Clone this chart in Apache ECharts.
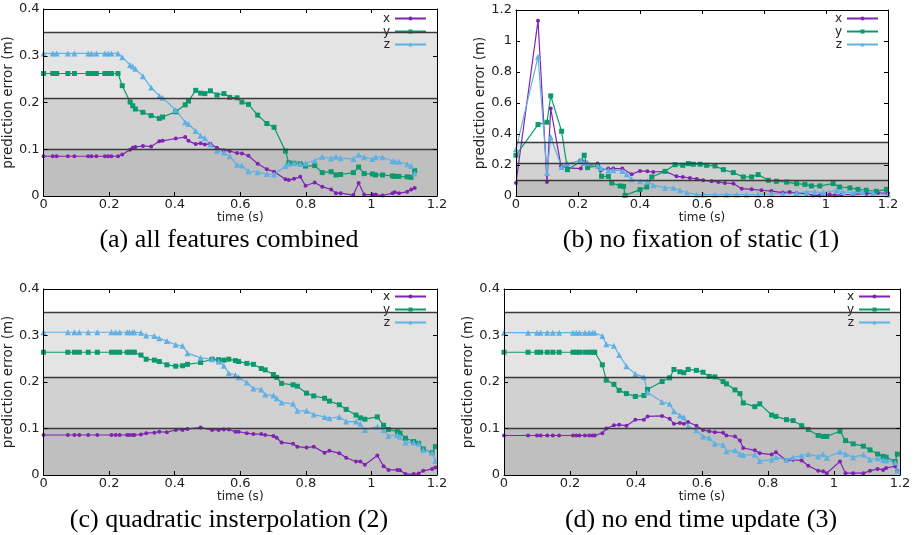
<!DOCTYPE html>
<html>
<head>
<meta charset="utf-8">
<script src="https://cdn.jsdelivr.net/npm/echarts@6/dist/echarts.min.js"></script>
<style>html,body{margin:0;padding:0;background:#fff;}#c{width:915px;height:535px;}</style>
</head>
<body>
<div id="c"></div>
<script>
// ---------- data ----------
const CAPTIONS = ['(a) all features combined', '(b) no fixation of static (1)',
                  '(c) quadratic insterpolation (2)', '(d) no end time update (3)'];
const X_TICKS = [0, 1.2, 0.2];
const BAND_EDGES = [0.1, 0.21, 0.35];

// (a) all features combined
const T_A = [0,0.028,0.040,0.074,0.094,0.136,0.146,0.161,0.187,0.197,0.207,0.227,
  0.240,0.264,0.272,0.280,0.303,0.328,0.353,0.363,0.403,0.432,
  0.442,0.464,0.479,0.492,0.509,0.529,0.550,0.568,0.590,0.605,
  0.625,0.653,0.681,0.703,0.738,0.748,0.764,0.783,0.799,0.827,
  0.850,0.877,0.892,0.906,0.945,0.961,0.978,1.003,1.013,1.034,
  1.064,1.071,1.084,1.109,1.121,1.132];
const A_X = [0.085,0.085,0.085,0.085,0.085,0.085,0.085,0.085,0.085,0.085,0.085,0.085,
  0.089,0.099,0.103,0.105,0.107,0.106,0.117,0.118,0.123,0.126,
  0.118,0.111,0.113,0.110,0.112,0.103,0.098,0.096,0.092,0.091,
  0.086,0.069,0.057,0.052,0.036,0.034,0.037,0.041,0.022,0.029,
  0.020,0.014,0.006,0.006,0.002,0.028,0.003,0.003,0.003,0.001,
  0.006,0.008,0.006,0.009,0.014,0.017];
const A_Y = [0.262,0.262,0.262,0.262,0.262,0.262,0.262,0.262,0.262,0.262,0.262,0.262,
  0.236,0.201,0.193,0.186,0.179,0.172,0.166,0.169,0.180,0.195,
  0.203,0.226,0.220,0.219,0.225,0.216,0.219,0.211,0.210,0.201,
  0.196,0.173,0.155,0.147,0.096,0.071,0.070,0.069,0.064,0.065,
  0.050,0.052,0.045,0.046,0.050,0.062,0.048,0.047,0.045,0.045,
  0.043,0.042,0.042,0.041,0.040,0.054];
const A_Z = [0.305,0.305,0.305,0.305,0.305,0.305,0.305,0.305,0.305,0.305,0.305,0.305,
  0.297,0.280,0.277,0.272,0.256,0.232,0.214,0.210,0.184,0.158,
  0.154,0.139,0.129,0.124,0.110,0.097,0.093,0.085,0.067,0.065,
  0.053,0.051,0.047,0.046,0.064,0.069,0.071,0.069,0.070,0.076,
  0.084,0.080,0.084,0.081,0.079,0.088,0.083,0.079,0.083,0.083,
  0.075,0.074,0.073,0.068,0.064,0.048];

// (b) no fixation of static  ([time, error] pairs)
const B_X = [[0,0.084],[0.071,1.131],[0.100,0.090],[0.112,0.564],[0.145,0.194],[0.166,0.181],
  [0.209,0.177],[0.220,0.220],[0.231,0.194],[0.263,0.209],[0.274,0.166],[0.298,0.177],
  [0.314,0.177],[0.343,0.177],[0.373,0.140],[0.400,0.162],[0.424,0.159],[0.443,0.155],
  [0.481,0.159],[0.518,0.127],[0.538,0.123],[0.561,0.116],[0.583,0.110],[0.604,0.101],
  [0.631,0.095],[0.653,0.090],[0.674,0.084],[0.701,0.080],[0.728,0.047],[0.760,0.043],
  [0.792,0.037],[0.824,0.032],[0.860,0.022],[0.883,0.026],[0.905,0.019],[0.937,0.015],
  [0.958,0.004],[0.980,0.004],[1.012,0.009],[1.028,0.004],[1.050,0.009],[1.087,0.011],
  [1.130,0.015],[1.168,0.019],[1.200,0.019]];
const B_Y = [[0,0.263],[0.071,0.461],[0.100,0.476],[0.112,0.646],[0.147,0.418],[0.166,0.170],
  [0.209,0.224],[0.220,0.263],[0.231,0.183],[0.263,0.194],[0.276,0.127],[0.298,0.127],
  [0.309,0.084],[0.336,0.065],[0.347,0.062],[0.352,0.004],[0.400,0.041],[0.422,0.058],
  [0.438,0.123],[0.481,0.159],[0.513,0.202],[0.538,0.198],[0.556,0.209],[0.572,0.205],
  [0.594,0.205],[0.615,0.198],[0.642,0.194],[0.669,0.170],[0.701,0.151],[0.733,0.123],
  [0.760,0.123],[0.781,0.138],[0.814,0.101],[0.840,0.095],[0.873,0.090],[0.905,0.080],
  [0.932,0.075],[0.953,0.065],[0.980,0.065],[1.023,0.080],[1.044,0.058],[1.077,0.052],
  [1.103,0.043],[1.130,0.037],[1.162,0.030],[1.195,0.043]];
const B_Z = [[0,0.302],[0.071,0.898],[0.100,0.149],[0.112,0.381],[0.147,0.187],[0.166,0.209],
  [0.209,0.230],[0.220,0.215],[0.231,0.215],[0.263,0.198],[0.274,0.181],[0.298,0.166],
  [0.314,0.166],[0.343,0.162],[0.357,0.140],[0.373,0.108],[0.400,0.095],[0.424,0.095],
  [0.443,0.069],[0.481,0.054],[0.508,0.052],[0.529,0.037],[0.551,0.022],[0.583,0.009],
  [0.604,0.009],[0.642,0.009],[0.679,0.009],[0.712,0.009],[0.744,0.009],[0.781,0.009],
  [0.824,0.015],[0.860,0.015],[0.905,0.019],[0.937,0.026],[0.964,0.026],[0.991,0.022],
  [1.034,0.037],[1.055,0.026],[1.087,0.022],[1.119,0.026],[1.152,0.019],[1.200,0.009]];

// (c) quadratic interpolation
const T_C = [0,0.074,0.094,0.109,0.136,0.164,0.207,0.220,0.232,0.255,0.262,0.272,0.277,
  0.297,0.313,0.338,0.353,0.376,0.403,0.424,0.439,0.479,0.514,
  0.534,0.550,0.565,0.585,0.595,0.620,0.640,0.664,0.676,0.701,
  0.711,0.726,0.761,0.774,0.802,0.824,0.857,0.872,0.902,0.923,
  0.953,0.966,0.980,1.018,1.037,1.052,1.079,1.087,1.104,1.129,
  1.144,1.158,1.185,1.195];
const C_X = [0.086,0.086,0.086,0.086,0.086,0.086,0.086,0.086,0.086,0.086,0.086,0.086,0.086,
  0.087,0.090,0.091,0.093,0.092,0.097,0.097,0.099,0.102,0.097,
  0.097,0.098,0.098,0.093,0.093,0.090,0.088,0.088,0.086,0.084,
  0.080,0.070,0.067,0.061,0.059,0.061,0.048,0.052,0.047,0.037,
  0.029,0.029,0.022,0.042,0.019,0.011,0.011,0.010,0.002,0.002,
  0.003,0.009,0.013,0.016];
const C_Y = [0.264,0.264,0.264,0.264,0.264,0.264,0.264,0.264,0.264,0.264,0.264,0.264,0.264,
  0.258,0.249,0.247,0.244,0.237,0.234,0.235,0.238,0.242,0.249,
  0.248,0.247,0.249,0.246,0.244,0.240,0.238,0.229,0.226,0.216,
  0.210,0.197,0.194,0.191,0.176,0.170,0.165,0.159,0.151,0.141,
  0.129,0.123,0.120,0.125,0.107,0.098,0.093,0.090,0.079,0.072,
  0.068,0.056,0.048,0.061];
const C_Z = [0.307,0.307,0.307,0.307,0.307,0.307,0.307,0.307,0.307,0.307,0.307,0.307,0.307,
  0.306,0.300,0.299,0.294,0.288,0.280,0.278,0.262,0.252,0.249,
  0.244,0.235,0.219,0.215,0.210,0.199,0.186,0.184,0.173,0.171,
  0.165,0.156,0.153,0.138,0.138,0.130,0.125,0.122,0.125,0.115,
  0.115,0.110,0.097,0.104,0.097,0.084,0.086,0.082,0.070,0.070,
  0.068,0.054,0.048,0.030];

// (d) no end time update
const T_D = [0,0.073,0.100,0.111,0.131,0.148,0.167,0.209,0.219,0.229,0.245,0.258,0.268,0.275,
  0.298,0.310,0.333,0.349,0.371,0.398,0.424,0.435,0.479,0.502,
  0.515,0.533,0.545,0.558,0.583,0.603,0.622,0.639,0.664,0.674,
  0.700,0.715,0.725,0.760,0.775,0.811,0.824,0.856,0.876,0.902,
  0.922,0.952,0.967,0.978,1.018,1.035,1.058,1.089,1.109,1.132,
  1.149,1.158,1.185,1.192];
const D_X = [0.085,0.085,0.085,0.085,0.085,0.085,0.085,0.085,0.085,0.085,0.085,0.085,0.085,0.085,
  0.090,0.100,0.107,0.108,0.106,0.119,0.119,0.126,0.127,0.121,
  0.110,0.112,0.110,0.114,0.106,0.097,0.094,0.092,0.091,0.085,
  0.083,0.074,0.058,0.053,0.047,0.044,0.049,0.031,0.033,0.031,
  0.020,0.009,0.008,0.004,0.029,0.004,0.004,0.004,0.009,0.013,
  0.011,0.015,0.019,0.009];
const D_Y = [0.264,0.264,0.264,0.264,0.264,0.264,0.264,0.264,0.264,0.264,0.264,0.264,0.264,0.264,
  0.237,0.204,0.195,0.182,0.175,0.169,0.171,0.184,0.201,0.209,
  0.227,0.222,0.220,0.227,0.225,0.221,0.212,0.211,0.201,0.196,
  0.183,0.175,0.155,0.147,0.153,0.129,0.126,0.119,0.117,0.106,
  0.098,0.085,0.083,0.083,0.094,0.074,0.067,0.062,0.054,0.045,
  0.040,0.038,0.029,0.045];
const D_Z = [0.306,0.306,0.306,0.306,0.306,0.306,0.306,0.306,0.306,0.306,0.306,0.306,0.306,0.306,
  0.299,0.281,0.278,0.258,0.234,0.217,0.211,0.178,0.157,0.153,
  0.137,0.128,0.124,0.105,0.096,0.083,0.080,0.067,0.065,0.051,
  0.053,0.045,0.043,0.044,0.030,0.033,0.038,0.033,0.038,0.042,
  0.045,0.040,0.045,0.037,0.050,0.045,0.038,0.044,0.033,0.036,
  0.033,0.031,0.027,0.009];

// ---------- build ----------
const zip = (t, v) => t.map((x, i) => [x, v[i]]);
const panels = [
  {x: zip(T_A, A_X), y: zip(T_A, A_Y), z: zip(T_A, A_Z), ymax: 0.4, yint: 0.1,
   grid: {left: 40, top: 9, width: 397, height: 187}, leg: {right: 488, top: 12}, cap: [229, 240]},
  {x: B_X, y: B_Y, z: B_Z, ymax: 1.2, yint: 0.2,
   grid: {left: 516, top: 10, width: 372, height: 186}, leg: {right: 36, top: 12}, cap: [701, 240]},
  {x: zip(T_C, C_X), y: zip(T_C, C_Y), z: zip(T_C, C_Z), ymax: 0.4, yint: 0.1,
   grid: {left: 40, top: 289, width: 397, height: 186}, leg: {right: 488, top: 290}, cap: [229, 520]},
  {x: zip(T_D, D_X), y: zip(T_D, D_Y), z: zip(T_D, D_Z), ymax: 0.4, yint: 0.1,
   grid: {left: 504, top: 289, width: 396, height: 186}, leg: {right: 24, top: 290}, cap: [701, 520]}
];

const COLORS = {x: '#8023b3', y: '#0b9a6e', z: '#5fb0e4'};
const SYMBOLS = {x: ['circle', 4], y: ['rect', 5], z: ['triangle', 6]};
const BAND_COLORS = ['#bfbfbf', '#d1d1d1', '#e4e4e4'];
const tickFont = {fontFamily: 'DejaVu Sans', fontSize: 13, color: '#222'};

const grid = [], xAxis = [], yAxis = [], series = [], legend = [], graphic = [];
panels.forEach((p, k) => {
  grid.push(Object.assign({containLabel: false}, p.grid));
  const common = {min: X_TICKS[0], max: X_TICKS[1], interval: X_TICKS[2], gridIndex: k, type: 'value', z: 10,
    splitLine: {show: false},
    axisLine: {show: true, onZero: false, lineStyle: {color: '#000', width: 1}},
    axisTick: {show: true, inside: true, length: 4, lineStyle: {color: '#000'}}};
  xAxis.push(Object.assign({}, common, {position: 'bottom',
    axisLabel: Object.assign({margin: 2}, tickFont),
    name: 'time (s)', nameLocation: 'middle', nameGap: 5,
    nameTextStyle: {fontFamily: 'DejaVu Sans', fontSize: 12, color: '#222'}}));
  xAxis.push(Object.assign({}, common, {position: 'top', axisLabel: {show: false}}));
  const ycommon = {min: 0, max: p.ymax, interval: p.yint, gridIndex: k, type: 'value', z: 10,
    splitLine: {show: false},
    axisLine: {show: true, onZero: false, lineStyle: {color: '#000', width: 1}},
    axisTick: {show: true, inside: true, length: 4, lineStyle: {color: '#000'}}};
  yAxis.push(Object.assign({}, ycommon, {position: 'left',
    axisLabel: Object.assign({margin: 4}, tickFont),
    name: 'prediction error (m)', nameLocation: 'middle', nameGap: 22, nameRotate: 90,
    nameTextStyle: {fontFamily: 'DejaVu Sans', fontSize: 13.5, color: '#222'}}));
  yAxis.push(Object.assign({}, ycommon, {position: 'right', axisLabel: {show: false}}));

  // background bands
  const edges = [0].concat(BAND_EDGES);
  series.push({type: 'line', name: 'bands' + k, xAxisIndex: 2 * k, yAxisIndex: 2 * k, data: [], z: 1,
    silent: true, symbol: 'none',
    markArea: {silent: true, data: BAND_COLORS.map((c, i) => [
      {xAxis: X_TICKS[0], yAxis: edges[i], itemStyle: {color: c}},
      {xAxis: X_TICKS[1], yAxis: edges[i + 1]}])},
    markLine: {silent: true, symbol: 'none', label: {show: false},
      lineStyle: {color: '#3a3a3a', width: 1.3, type: 'solid'},
      data: BAND_EDGES.map(e => [{coord: [X_TICKS[0], e]}, {coord: [X_TICKS[1], e]}])}
  });
  ['x', 'y', 'z'].forEach(n => {
    series.push({type: 'line', name: n, xAxisIndex: 2 * k, yAxisIndex: 2 * k, data: p[n], z: 3,
      symbol: SYMBOLS[n][0], symbolSize: SYMBOLS[n][1], showSymbol: true,
      lineStyle: {color: COLORS[n], width: 1.2}, itemStyle: {color: COLORS[n]}});
  });
  legend.push({orient: 'vertical', right: p.leg.right, top: p.leg.top, align: 'right', padding: 0,
    itemGap: 0, itemWidth: 31, itemHeight: 5, data: ['x', 'y', 'z'],
    textStyle: {fontFamily: 'DejaVu Sans', fontSize: 12, color: '#222', lineHeight: 13}});
  graphic.push({type: 'text', x: p.cap[0], y: p.cap[1],
    style: {text: CAPTIONS[k], font: '26px "Liberation Serif"', fill: '#000',
      textAlign: 'center', textVerticalAlign: 'middle'}});
});

const chart = echarts.init(document.getElementById('c'), null, {renderer: 'canvas'});
chart.setOption({animation: false, backgroundColor: '#fff', color: [COLORS.x, COLORS.y, COLORS.z],
  grid, xAxis, yAxis, series, legend, graphic});
</script>
</body>
</html>
